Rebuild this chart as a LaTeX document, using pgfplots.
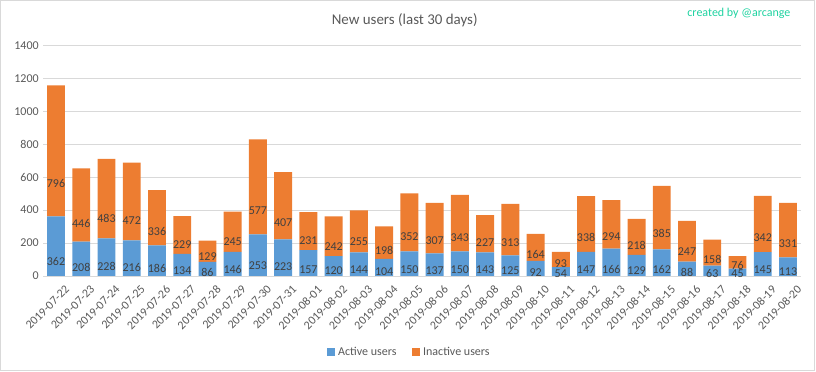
\documentclass[border=0pt]{standalone}
\usepackage{pgfplots}
\pgfplotsset{compat=1.18}
\usepackage{pgfplotstable}
\usepackage{fontspec}
\setmainfont{Carlito}
\definecolor{cblue}{HTML}{5B9BD5}
\definecolor{corange}{HTML}{ED7D31}
\definecolor{ctext}{HTML}{595959}
\definecolor{clab}{HTML}{404040}
\definecolor{cgrid}{HTML}{D9D9D9}
\definecolor{cteal}{HTML}{1ED2A0}
\pgfplotstableread{
idx a i
0 362 796
1 208 446
2 228 483
3 216 472
4 186 336
5 134 229
6 86 129
7 146 245
8 253 577
9 223 407
10 157 231
11 120 242
12 144 255
13 104 198
14 150 352
15 137 307
16 150 343
17 143 227
18 125 313
19 92 164
20 54 93
21 147 338
22 166 294
23 129 218
24 162 385
25 88 247
26 63 158
27 45 76
28 145 342
29 113 331
}\data
\begin{document}
\begin{tikzpicture}
\path[use as bounding box] (0,0) rectangle (612pt,278.25pt);
\draw[cgrid, line width=0.75pt] (0.4pt,0.4pt) rectangle (611pt,277.6pt);
\node[font=\fontsize{11.2}{13}\selectfont, text=ctext] at (303.5pt,263.25pt) {New users (last 30 days)};
\node[font=\fontsize{9}{11}\selectfont, text=cteal, anchor=east, inner sep=0pt] at (593pt,268.5pt) {created by @arcange};
\begin{axis}[
  at={(32.55pt,71.25pt)}, anchor=south west,
  scale only axis, width=567.9pt, height=172.95pt,
  ybar stacked, bar width=0.71,
  xmin=-0.5, xmax=29.5, ymin=0, ymax=1400,
  ytick={0,200,...,1400},
  xtick={0,...,29},
  xticklabels={2019-07-22,2019-07-23,2019-07-24,2019-07-25,2019-07-26,2019-07-27,2019-07-28,2019-07-29,2019-07-30,2019-07-31,2019-08-01,2019-08-02,2019-08-03,2019-08-04,2019-08-05,2019-08-06,2019-08-07,2019-08-08,2019-08-09,2019-08-10,2019-08-11,2019-08-12,2019-08-13,2019-08-14,2019-08-15,2019-08-16,2019-08-17,2019-08-18,2019-08-19,2019-08-20},
  xticklabel style={rotate=45, anchor=north east, font=\fontsize{9}{11}\selectfont, text=ctext, inner sep=1pt, xshift=1pt, yshift=-8pt},
  yticklabel style={font=\fontsize{9}{11}\selectfont, text=ctext},
  /pgf/number format/assume math mode=true,
  /pgf/number format/1000 sep={},
  major tick length=0pt,
  ymajorgrids, grid style={cgrid, line width=0.75pt},
  axis line style={draw=none},
  point meta=explicit,
  visualization depends on={rawy \as \val},
  nodes near coords,
  every node near coord/.append style={font=\fontsize{9}{11}\selectfont, text=clab, anchor=center, yshift={-0.030884pt*\val}},
  legend style={at={(0.484,-0.33)}, anchor=center, draw=none, legend columns=2, font=\fontsize{9}{11}\selectfont, text=ctext, /tikz/every even column/.append style={column sep=10pt}},
  legend image code/.code={\fill[#1] (0pt,-3pt) rectangle (6pt,3pt);},
]
\draw[cgrid, line width=0.75pt] (axis cs:-0.5,0) -- (axis cs:29.5,0);
\addplot[fill=cblue, draw=none] table[x=idx, y=a, meta=a] {\data};
\addplot[fill=corange, draw=none] table[x=idx, y=i, meta=i] {\data};
\legend{Active users, Inactive users}
\end{axis}
\end{tikzpicture}
\end{document}
